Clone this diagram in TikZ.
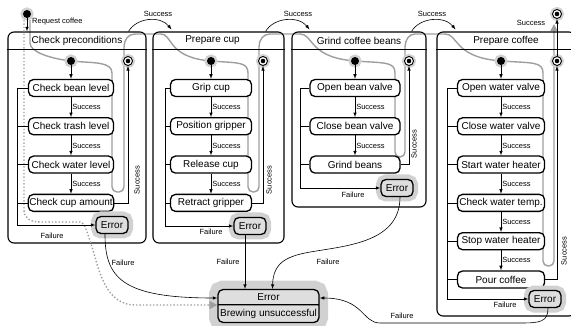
\documentclass[tikz,border=0pt]{standalone}
\usepackage{fontspec}
\setmainfont{Liberation Sans}
\usetikzlibrary{positioning, backgrounds, arrows.meta, calc, shapes.multipart}
\tikzset{>=latex}
\definecolor{halogray}{gray}{0.82}
\definecolor{errgray}{gray}{0.87}
\definecolor{tracegray}{gray}{0.62}
\tikzset{
    superstate/.style={draw, line width=1.1pt, rounded corners=6pt, inner sep=0pt},
    substate/.style={draw, fill=white, line width=1.3pt, rounded corners=5pt, minimum height=17pt, inner sep=1pt, font=\fontsize{10}{12}\selectfont},
    errstate/.style={draw, fill=errgray, line width=1.3pt, rounded corners=5pt, minimum width=32pt, minimum height=17pt, inner sep=1pt, font=\fontsize{10}{12}\selectfont, preaction={draw=halogray, line width=10pt}},
    bigerror/.style={rectangle split, rectangle split parts=2, draw, fill=errgray, line width=1.3pt, rounded corners=5pt, inner xsep=2pt, inner ysep=3.5pt, minimum width=101pt, font=\fontsize{10}{12}\selectfont, preaction={draw=halogray, line width=18pt}},
    initstate/.style={circle, fill=black, inner sep=0pt, minimum size=8pt, preaction={draw=halogray, line width=5pt}},
    finalstate/.style={circle, draw, fill=white, line width=0.9pt, inner sep=0pt, minimum size=9pt, preaction={draw=halogray, line width=5pt}, label={[circle, fill=black, inner sep=0pt, minimum size=4.6pt]center:}},
    boxtitle/.style={font=\fontsize{10}{12}\selectfont},
    lbl/.style={font=\fontsize{7.5}{9}\selectfont, inner sep=1pt},
    trans/.style={->, line width=0.6pt},
    tracepath/.style={draw=tracegray, line width=1.4pt, rounded corners=5pt},
}

\begin{document}
\begin{tikzpicture}[x=1pt, y=-1pt]
    \useasboundingbox (0,0) rectangle (571,326);
    \clip (0,0) rectangle (571,326);

    \node[initstate] (start) at (27,14) {};
    \node[finalstate] (done) at (557,14) {};
    \node[lbl, anchor=west] (rql) at (31,22) {Request coffee};

    % check preconditions
    \node[superstate, minimum width=138pt, minimum height=211pt] (cp) at (77,137.5) {};
    \node[boxtitle] (cpt) at ($(cp.north)+(0,9)$) {Check preconditions};
    \draw[line width=1.1pt] ($(cp.north west)+(0,18)$) -- ($(cp.north east)+(0,18)$);
    \node[initstate] (cpi) at (71,61) {};
    \node[finalstate] (cpf) at (128,61) {};
    \node[substate, minimum width=85pt] (cp1) at (71,88) {Check bean level};
    \node[substate, minimum width=85pt, below=20pt of cp1] (cp2) {Check trash level};
    \node[substate, minimum width=85pt, below=20pt of cp2] (cp3) {Check water level};
    \node[substate, minimum width=85pt, below=20pt of cp3] (cp4) {Check cup amount};
    \node[errstate] (cpe) at (112,225) {Error};
    \coordinate (cpx) at (17,88);

    % prepare cup
    \node[superstate, minimum width=131pt, minimum height=211pt] (pc) at (218.5,137.5) {};
    \node[boxtitle] (pct) at ($(pc.north)+(-6,9)$) {Prepare cup};
    \draw[line width=1.1pt] ($(pc.north west)+(0,18)$) -- ($(pc.north east)+(0,18)$);
    \node[initstate] (pci) at (211,61) {};
    \node[finalstate] (pcf) at (263,61) {};
    \node[substate, minimum width=81pt] (pc1) at (211,88) {Grip cup};
    \node[substate, minimum width=81pt, below=20pt of pc1] (pc2) {Position gripper};
    \node[substate, minimum width=81pt, below=20pt of pc2] (pc3) {Release cup};
    \node[substate, minimum width=81pt, below=20pt of pc3] (pc4) {Retract gripper};
    \node[errstate] (pce) at (250,226) {Error};
    \coordinate (pcx) at (165,88);

    % grind coffee beans
    \node[superstate, minimum width=134pt, minimum height=175pt] (gb) at (359,119.5) {};
    \node[boxtitle] (gbt) at ($(gb.north)+(0,9)$) {Grind coffee beans};
    \draw[line width=1.1pt] ($(gb.north west)+(0,18)$) -- ($(gb.north east)+(0,18)$);
    \node[initstate] (gbi) at (355,61) {};
    \node[finalstate] (gbf) at (409,61) {};
    \node[substate, minimum width=90pt] (gb1) at (355,88) {Open bean valve};
    \node[substate, minimum width=90pt, below=20pt of gb1] (gb2) {Close bean valve};
    \node[substate, minimum width=90pt, below=20pt of gb2] (gb3) {Grind beans};
    \node[errstate] (gbe) at (397,188) {Error};
    \coordinate (gbx) at (300,88);

    % prepare coffee
    \node[superstate, minimum width=138pt, minimum height=284pt] (pf) at (506,174) {};
    \node[boxtitle] (pft) at ($(pf.north)+(0,9)$) {Prepare coffee};
    \draw[line width=1.1pt] ($(pf.north west)+(0,18)$) -- ($(pf.north east)+(0,18)$);
    \node[initstate] (pfi) at (501,61) {};
    \node[finalstate] (pff) at (557,61) {};
    \node[substate, minimum width=87pt] (pf1) at (501,88) {Open water valve};
    \node[substate, minimum width=87pt, below=20pt of pf1] (pf2) {Close water valve};
    \node[substate, minimum width=87pt, below=20pt of pf2] (pf3) {Start water heater};
    \node[substate, minimum width=87pt, below=20pt of pf3] (pf4) {Check water temp.};
    \node[substate, minimum width=87pt, below=20pt of pf4] (pf5) {Stop water heater};
    \node[substate, minimum width=87pt, below=20pt of pf5] (pf6) {Pour coffee};
    \node[errstate] (pfe) at (545,299) {Error};
    \coordinate (pfx) at (447,88);

    \node[bigerror] (err) at (268.5,306) {Error \nodepart{two} Brewing unsuccessful};

    \begin{scope}[on background layer]
        \draw[tracepath, -{Triangle[length=7pt, width=7pt]}] (30,20) -- (30,38)
            .. controls (30,52) and (50,58) .. (cpi.center)
            .. controls (95,63) and (112,62) .. (112,78) -- (112,192) -- (124,192) -- (124,52)
            .. controls (124,40) and (128,34) .. (140,34) -- (156,34)
            .. controls (172,34) and (168,56) .. (pci.center)
            .. controls (238,63) and (248,62) .. (248,78) -- (248,192) -- (259,192) -- (259,52)
            .. controls (259,40) and (263,34) .. (275,34) -- (295,34)
            .. controls (313,34) and (309,56) .. (gbi.center)
            .. controls (385,63) and (395,62) .. (395,78) -- (395,157) -- (405,157) -- (405,52)
            .. controls (405,40) and (409,34) .. (420,34) -- (440,34)
            .. controls (458,34) and (454,56) .. (pfi.center)
            .. controls (533,63) and (543,62) .. (543,78) -- (543,266) -- (554,266) -- (554,24);
    \end{scope}

    \draw[trans] (start) -- (start |- cp.north);
    \draw[tracepath, dotted, -{Triangle[length=8pt, width=8pt]}] (24,20) -- (24,205)
        .. controls (24,218) and (30,222) .. (45,222) -- (75,222)
        .. controls (85,222) and (88,235) .. (93,250)
        .. controls (100,275) and (108,305) .. (140,305) -- ($(err.west)+(0,-1)$);

    \foreach \a/\b in {cpi/cp1, pci/pc1, gbi/gb1, pfi/pf1}
        \draw[trans] (\a) -- (\b);
    \foreach \a/\b in {cp1/cp2, cp2/cp3, cp3/cp4, pc1/pc2, pc2/pc3, pc3/pc4, gb1/gb2, gb2/gb3, pf1/pf2, pf2/pf3, pf3/pf4, pf4/pf5, pf5/pf6}
        \draw[trans] (\a) -- node[lbl, right] (\a s) {Success} (\b);

    % failure inside the boxes
    \foreach \s in {cp1, cp2, cp3, cp4}
        \draw[line width=0.6pt] (\s.west) -- (\s.west -| cpx);
    \foreach \s in {pc1, pc2, pc3, pc4}
        \draw[line width=0.6pt] (\s.west) -- (\s.west -| pcx);
    \foreach \s in {gb1, gb2, gb3}
        \draw[line width=0.6pt] (\s.west) -- (\s.west -| gbx);
    \foreach \s in {pf1, pf2, pf3, pf4, pf5, pf6}
        \draw[line width=0.6pt] (\s.west) -- (\s.west -| pfx);
    \draw[trans] (cpx) |- (cpe.west);
    \draw[trans] (pcx) |- (pce.west);
    \draw[trans] (gbx) |- (gbe.west);
    \draw[trans] (pfx) |- (pfe.west);
    \node[lbl] (cpfl) at (52,236) {Failure};
    \node[lbl] (pcfl) at (211,232) {Failure};
    \node[lbl] (gbfl) at (353,195) {Failure};
    \node[lbl] (pffl) at (505,305) {Failure};

    % success to the final states
    \draw[trans] (cp4.east) -| (cpf);
    \draw[trans] (pc4.east) -| (pcf);
    \draw[trans] (gb3.east) -| (gbf);
    \draw[trans] (pf6.east) -| (pff);
    \draw[trans] (pff) -- (done);
    \node[lbl, rotate=90] (cpsl) at (137,180) {Success};
    \node[lbl, rotate=90] (pcsl) at (269,180) {Success};
    \node[lbl, rotate=90] (gbsl) at (414,144) {Success};
    \node[lbl, rotate=90] (pfsl) at (564,251) {Success};
    \node[lbl] (dnsl) at (531,23) {Success};

    % success between the boxes
    \draw[trans] ($(cp.north east)+(-18,0)$) .. controls ($(cp.north east)+(-10,-14)$) and ($(pc.north west)+(8,-16)$) .. ($(pc.north west)+(19,-2)$);
    \draw[trans] ($(pc.north east)+(-19,0)$) .. controls ($(pc.north east)+(-11,-14)$) and ($(gb.north west)+(7,-16)$) .. ($(gb.north west)+(18,-2)$);
    \draw[trans] ($(gb.north east)+(-15,0)$) .. controls ($(gb.north east)+(-7,-14)$) and ($(pf.north west)+(8,-16)$) .. ($(pf.north west)+(19,-2)$);
    \node[lbl] (s12) at (158,14) {Success};
    \node[lbl] (s23) at (298,14) {Success};
    \node[lbl] (s34) at (432,14) {Success};

    % failure to the main error
    \draw[trans] ([xshift=-7pt]cpe.south) .. controls (105,278) and (122,298) .. ($(err.west)+(0,-8)$);
    \draw[trans] ([xshift=-5pt]pce.south) -- ([xshift=-5pt]pce.south |- err.north);
    \draw[trans] ([xshift=3pt]gbe.south) .. controls (400,245) and (340,246) .. (305,253) .. controls (280,258) and (273,268) .. ($(err.north)+(4,0)$);
    \draw[trans] ([xshift=3pt]pfe.south) .. controls (548,322) and (540,323) .. (520,323) -- (380,323) .. controls (362,323) and (364,298) .. ($(err.east)+(0,-8)$);
    \node[lbl] (e1l) at (123,263) {Failure};
    \node[lbl] (e2l) at (228,262) {Failure};
    \node[lbl] (e3l) at (328,262) {Failure};
    \node[lbl] (e4l) at (402,316) {Failure};
\end{tikzpicture}
\end{document}
